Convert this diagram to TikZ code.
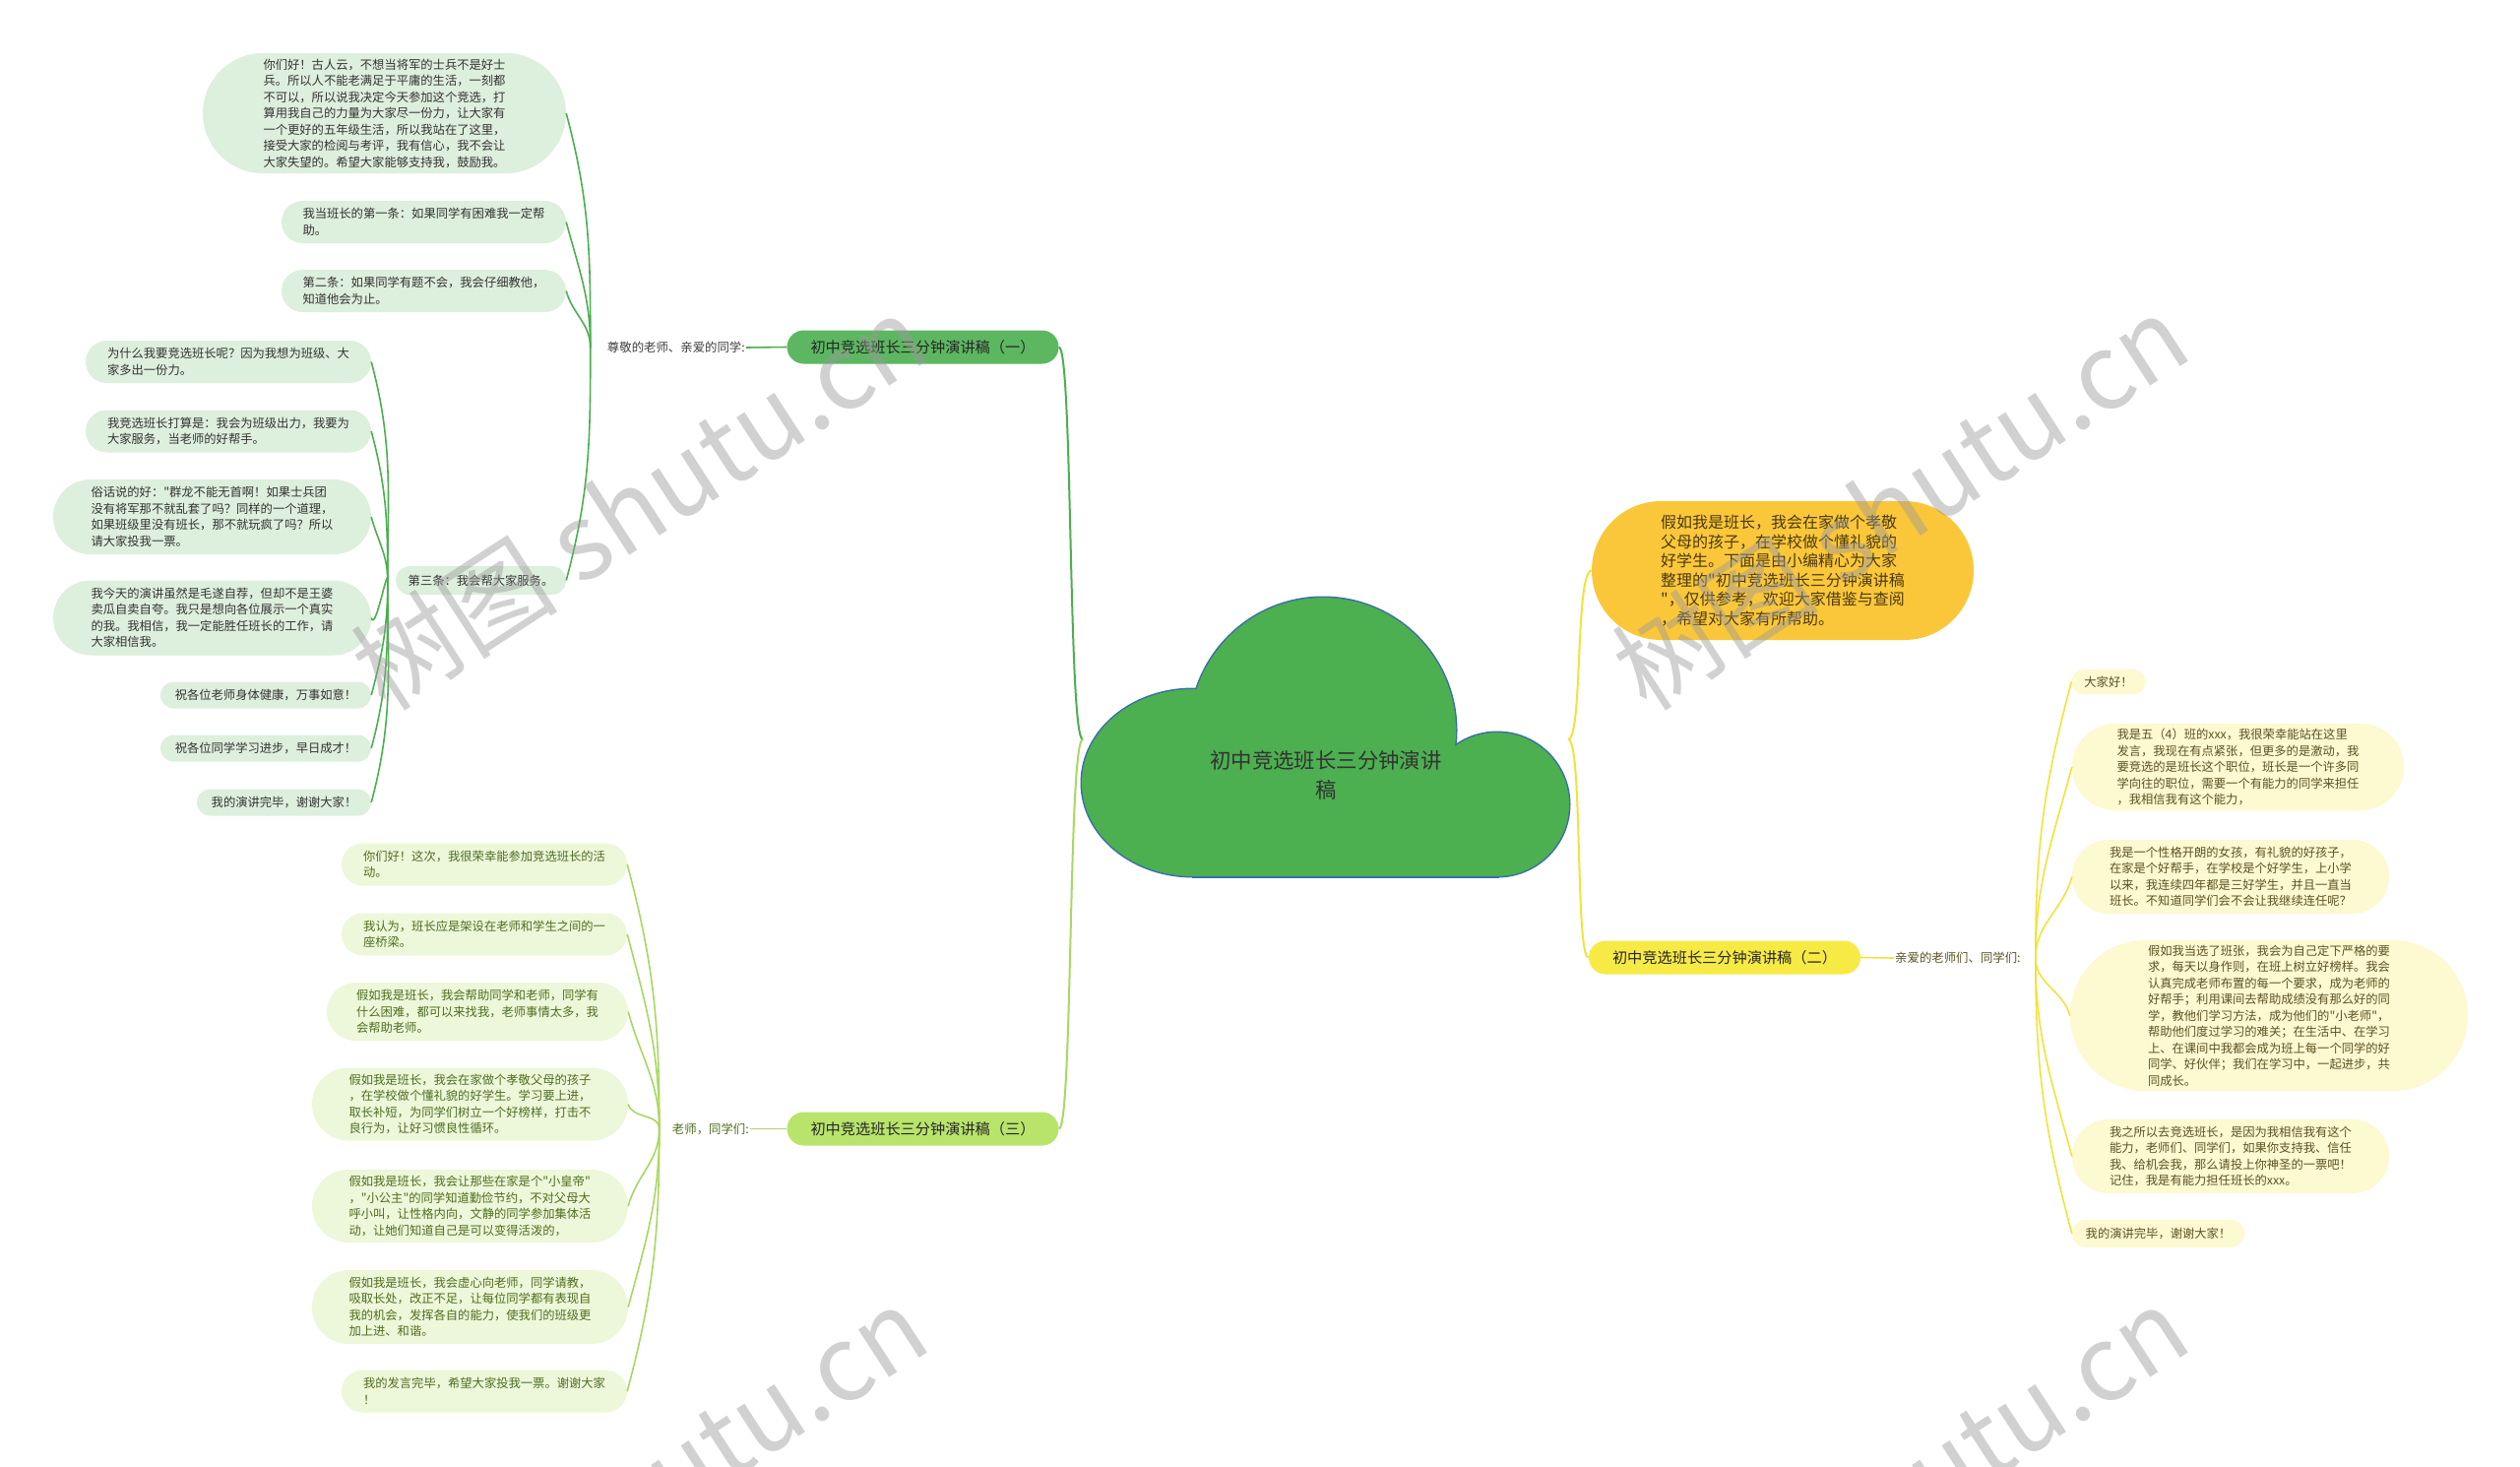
\documentclass[tikz,border=0pt]{standalone}
\usepackage{fontspec}
\setmainfont{Noto Sans CJK SC}
\newfontfamily\cjk{Noto Sans CJK SC}
\newcommand\fs[2]{\cjk\fontsize{#1}{#2}\selectfont}
\usetikzlibrary{shapes.misc,calc}
\definecolor{cloudfill}{HTML}{4CAF50}
\definecolor{cloudline}{HTML}{3A6FA8}
\definecolor{gline}{HTML}{4CAF50}
\definecolor{gnode}{HTML}{5DB761}
\definecolor{gleaf}{HTML}{DDEFDD}
\definecolor{lgline}{HTML}{A8D862}
\definecolor{lgnode}{HTML}{B8E46C}
\definecolor{lgleaf}{HTML}{EDF7DA}
\definecolor{lgtext}{HTML}{4E6E1E}
\definecolor{yline}{HTML}{F2E23C}
\definecolor{ynode}{HTML}{F7EA45}
\definecolor{yleaf}{HTML}{FDF9D0}
\definecolor{ytext}{HTML}{5C5222}
\definecolor{ofill}{HTML}{FBC73A}
\definecolor{otext}{HTML}{4A3A10}
\definecolor{wm}{HTML}{9A9A9A}
\tikzset{
  leaf/.style={rounded rectangle, inner sep=0pt, align=left,
    font=\fs{12.3}{16.5}},
  gl/.style={leaf, fill=gleaf, text=black!80},
  ll/.style={leaf, fill=lgleaf, text=lgtext},
  yl/.style={leaf, fill=yleaf, text=ytext},
  branch/.style={rounded rectangle, inner sep=0pt, minimum width=276pt, minimum height=34pt,
    font=\fs{15.2}{18}},
  sub/.style={inner sep=1pt, font=\fs{12.4}{14}},
  gc/.style={draw=gline, line width=1.6pt},
  lc/.style={draw=lgline, line width=1.6pt},
  yc/.style={draw=yline, line width=1.6pt},
}
\begin{document}
\begin{tikzpicture}[x=1pt,y=-1pt]
\useasboundingbox (0,0) rectangle (2560,1489);
\fill[white] (0,0) rectangle (2560,1489);
% cloud
\begin{scope}
\draw[cloudline, line width=3pt] (1344,742) circle (135);
\draw[cloudline, line width=3pt] (1212,795) ellipse (113 and 95);
\draw[cloudline, line width=3pt] (1521,817) circle (73);
\draw[cloudline, line width=3pt] (1212,760) rectangle (1521,890);
\fill[cloudfill] (1344,742) circle (135);
\fill[cloudfill] (1212,795) ellipse (113 and 95);
\fill[cloudfill] (1521,817) circle (73);
\fill[cloudfill] (1212,760) rectangle (1521,890);
\end{scope}
\node[align=center, font=\fs{21.4}{30}, text=black!80] (root) at (1347,787) {初中竞选班长三分钟演讲\\稿};
\coordinate (rootL) at (1100,751);
\coordinate (rootR) at (1593,751);

% intro
\node[rounded rectangle, fill=ofill, text=otext, inner sep=0pt, minimum width=388pt, minimum height=141pt,
  align=left, font=\fs{16}{19.5}] (intro) at (1811,579.5)
  {假如我是班长，我会在家做个孝敬\\父母的孩子，在学校做个懂礼貌的\\好学生。下面是由小编精心为大家\\整理的"初中竞选班长三分钟演讲稿\\"，仅供参考，欢迎大家借鉴与查阅\\，希望对大家有所帮助。};

% branches
\node[branch, fill=gnode, text=black!85] (b1) at (937.5,352.5) {初中竞选班长三分钟演讲稿（一）};
\node[branch, fill=lgnode, text=black!85] (b3) at (937.5,1146.5) {初中竞选班长三分钟演讲稿（三）};
\node[branch, fill=ynode, text=black!85] (b2) at (1752,972.5) {初中竞选班长三分钟演讲稿（二）};

\draw[gc, line width=2pt] (rootL) .. controls (1085,751) and (1090,352.5) .. (b1.east);
\draw[lc, line width=2pt] (rootL) .. controls (1085,751) and (1090,1146.5) .. (b3.east);
\draw[yc, line width=2pt] (rootR) .. controls (1608,751) and (1600,580) .. (intro.west);
\draw[yc, line width=2pt] (rootR) .. controls (1608,751) and (1600,972.5) .. (b2.west);

% sub labels
\node[sub, text=black!75, anchor=east] (s1) at (758,353) {尊敬的老师、亲爱的同学:};
\node[sub, text=lgtext, anchor=east] (s3) at (762,1146.5) {老师，同学们:};
\node[sub, text=ytext, anchor=west] (s2) at (1924,973) {亲爱的老师们、同学们:};
\draw[gc] (b1.west) -- (s1.east);
\draw[lc] (b3.west) -- (s3.east);
\draw[yc] (b2.east) -- (s2.west);
\coordinate (p1) at ($(s1.west)+(-16,0)$);
\coordinate (p3) at ($(s3.west)+(-12,0)$);
\coordinate (p2) at ($(s2.east)+(14,0)$);

% branch 1 leaves
\node[gl, minimum width=369pt, minimum height=122pt] (g1) at (390.5,115)
 {你们好！古人云，不想当将军的士兵不是好士\\兵。所以人不能老满足于平庸的生活，一刻都\\不可以，所以说我决定今天参加这个竞选，打\\算用我自己的力量为大家尽一份力，让大家有\\一个更好的五年级生活，所以我站在了这里，\\接受大家的检阅与考评，我有信心，我不会让\\大家失望的。希望大家能够支持我，鼓励我。};
\node[gl, minimum width=289pt, minimum height=43pt] (g2) at (430.5,225.5)
 {我当班长的第一条：如果同学有困难我一定帮\\助。};
\node[gl, minimum width=289pt, minimum height=43pt] (g3) at (430.5,295.5)
 {第二条：如果同学有题不会，我会仔细教他，\\知道他会为止。};
\node[gl, minimum width=173pt, minimum height=29pt] (g4) at (488.5,589.5)
 {第三条：我会帮大家服务。};
\foreach \n in {g1,g2,g3}{\draw[gc] (p1) to[out=90,in=-75] (\n.east);}
\draw[gc] (p1) to[out=-90,in=75] (g4.east);

\coordinate (p4) at ($(g4.west)+(-8,0)$);
\node[gl, minimum width=290pt, minimum height=43pt] (h1) at (232,367.5)
 {为什么我要竞选班长呢？因为我想为班级、大\\家多出一份力。};
\node[gl, minimum width=290pt, minimum height=43pt] (h2) at (232,438)
 {我竞选班长打算是：我会为班级出力，我要为\\大家服务，当老师的好帮手。};
\node[gl, minimum width=323pt, minimum height=76pt] (h3) at (215.5,525)
 {俗话说的好："群龙不能无首啊！如果士兵团\\没有将军那不就乱套了吗？同样的一个道理，\\如果班级里没有班长，那不就玩疯了吗？所以\\请大家投我一票。};
\node[gl, minimum width=323pt, minimum height=76pt] (h4) at (215.5,627.5)
 {我今天的演讲虽然是毛遂自荐，但却不是王婆\\卖瓜自卖自夸。我只是想向各位展示一个真实\\的我。我相信，我一定能胜任班长的工作，请\\大家相信我。};
\node[gl, minimum width=214pt, minimum height=27pt] (h5) at (270,706)
 {祝各位老师身体健康，万事如意！};
\node[gl, minimum width=214pt, minimum height=27pt] (h6) at (270,760)
 {祝各位同学学习进步，早日成才！};
\node[gl, minimum width=177pt, minimum height=27pt] (h7) at (288.5,815)
 {我的演讲完毕，谢谢大家！};
\foreach \n in {h1,h2,h3,h4}{\draw[gc] (p4) to[out=90,in=-75] (\n.east);}
\foreach \n in {h5,h6,h7}{\draw[gc] (p4) to[out=-90,in=75] (\n.east);}

% branch 3 leaves
\node[ll, minimum width=290pt, minimum height=43pt] (m1) at (492,878)
 {你们好！这次，我很荣幸能参加竞选班长的活\\动。};
\node[ll, minimum width=290pt, minimum height=43pt] (m2) at (492,949)
 {我认为，班长应是架设在老师和学生之间的一\\座桥梁。};
\node[ll, minimum width=306pt, minimum height=59pt] (m3) at (485,1027.5)
 {假如我是班长，我会帮助同学和老师，同学有\\什么困难，都可以来找我，老师事情太多，我\\会帮助老师。};
\node[ll, minimum width=321pt, minimum height=74pt] (m4) at (477.5,1121.5)
 {假如我是班长，我会在家做个孝敬父母的孩子\\，在学校做个懂礼貌的好学生。学习要上进，\\取长补短，为同学们树立一个好榜样，打击不\\良行为，让好习惯良性循环。};
\node[ll, minimum width=321pt, minimum height=74pt] (m5) at (477.5,1225)
 {假如我是班长，我会让那些在家是个"小皇帝"\\，"小公主"的同学知道勤俭节约，不对父母大\\呼小叫，让性格内向，文静的同学参加集体活\\动，让她们知道自己是可以变得活泼的，};
\node[ll, minimum width=321pt, minimum height=75pt] (m6) at (477.5,1327.5)
 {假如我是班长，我会虚心向老师，同学请教，\\吸取长处，改正不足，让每位同学都有表现自\\我的机会，发挥各自的能力，使我们的班级更\\加上进、和谐。};
\node[ll, minimum width=290pt, minimum height=43pt] (m7) at (492,1413)
 {我的发言完毕，希望大家投我一票。谢谢大家\\！};
\foreach \n in {m1,m2,m3,m4}{\draw[lc] (p3) to[out=90,in=-75] (\n.east);}
\foreach \n in {m5,m6,m7}{\draw[lc] (p3) to[out=-90,in=75] (\n.east);}

% branch 2 leaves
\node[yl, minimum width=75pt, minimum height=25pt] (r1) at (2142,692.5) {大家好！};
\node[yl, minimum width=337pt, minimum height=88pt] (r2) at (2273.5,779)
 {我是五（4）班的xxx，我很荣幸能站在这里\\发言，我现在有点紧张，但更多的是激动，我\\要竞选的是班长这个职位，班长是一个许多同\\学向往的职位，需要一个有能力的同学来担任\\，我相信我有这个能力，};
\node[yl, minimum width=322pt, minimum height=75pt] (r3) at (2266,890.5)
 {我是一个性格开朗的女孩，有礼貌的好孩子，\\在家是个好帮手，在学校是个好学生，上小学\\以来，我连续四年都是三好学生，并且一直当\\班长。不知道同学们会不会让我继续连任呢？};
\node[yl, minimum width=404pt, minimum height=153pt] (r4) at (2305,1031.5)
 {假如我当选了班张，我会为自己定下严格的要\\求，每天以身作则，在班上树立好榜样。我会\\认真完成老师布置的每一个要求，成为老师的\\好帮手；利用课间去帮助成绩没有那么好的同\\学，教他们学习方法，成为他们的"小老师"，\\帮助他们度过学习的难关；在生活中、在学习\\上、在课间中我都会成为班上每一个同学的好\\同学、好伙伴；我们在学习中，一起进步，共\\同成长。};
\node[yl, minimum width=322pt, minimum height=75pt] (r5) at (2266,1174.5)
 {我之所以去竞选班长，是因为我相信我有这个\\能力，老师们、同学们，如果你支持我、信任\\我、给机会我，那么请投上你神圣的一票吧！\\记住，我是有能力担任班长的xxx。};
\node[yl, minimum width=175pt, minimum height=28pt] (r6) at (2192.5,1253) {我的演讲完毕，谢谢大家！};
\foreach \n in {r1,r2,r3}{\draw[yc] (p2) to[out=90,in=-105] (\n.west);}
\foreach \n in {r4,r5,r6}{\draw[yc] (p2) to[out=-90,in=105] (\n.west);}

% watermarks
\begin{scope}
\clip (0,0) rectangle (2560,1489);
\foreach \wx/\wy [count=\wi] in {649/510,1930/510,649/1517,1930/1517}{
  \node[text=wm, text opacity=0.45, rotate=33, font=\fs{106}{110}] (wm\wi) at (\wx,\wy) {树图 shutu.cn};
}
\end{scope}
\end{tikzpicture}
\end{document}
